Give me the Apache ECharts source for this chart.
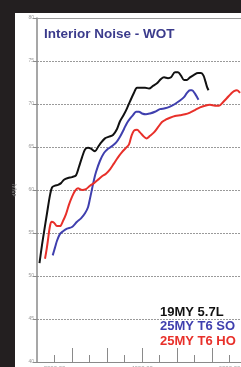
<!DOCTYPE html>
<html>
<head>
<meta charset="utf-8">
<script src="https://cdn.jsdelivr.net/npm/echarts@6/dist/echarts.min.js"></script>
<style>
  html, body { margin: 0; padding: 0; background: #231f20; }
  #chart { width: 241px; height: 367px; }
</style>
</head>
<body>
<div id="chart"></div>
<script>
// engine speed (rpm) / interior noise dB(A)
const rpm19 = [1657, 1714, 1760, 1829, 1897, 1943, 2011, 2080, 2149, 2217, 2309, 2400, 2491, 2560, 2629, 2697, 2766, 2834, 2926, 2994, 3063, 3154, 3246, 3337, 3429, 3497, 3589, 3657, 3726, 3817, 3886, 3977, 4069, 4160, 4251, 4343, 4434, 4503, 4594, 4663, 4754, 4823, 4891, 4960, 5029, 5097, 5189, 5280, 5349, 5406, 5451, 5486, 5520];
const db19 = [51.5, 53.6, 55.1, 57.3, 59.4, 60.3, 60.5, 60.6, 60.8, 61.2, 61.4, 61.5, 61.7, 62.7, 63.8, 64.7, 64.9, 64.8, 64.5, 65.0, 65.5, 66.0, 66.2, 66.4, 67.1, 68.0, 68.8, 69.5, 70.3, 71.3, 71.9, 71.9, 71.9, 71.8, 72.1, 72.4, 72.9, 73.1, 73.0, 73.1, 73.7, 73.7, 73.3, 72.8, 72.8, 73.1, 73.4, 73.6, 73.6, 73.3, 72.6, 72.0, 71.6];

const rpmSO = [1959, 2011, 2057, 2126, 2194, 2286, 2400, 2514, 2606, 2697, 2766, 2811, 2857, 2903, 2949, 3040, 3131, 3223, 3314, 3406, 3497, 3589, 3657, 3726, 3794, 3863, 3931, 4000, 4091, 4183, 4297, 4411, 4526, 4640, 4754, 4869, 4960, 5029, 5097, 5143, 5211, 5257, 5291];
const dbSO = [52.4, 53.3, 54.1, 54.9, 55.2, 55.5, 55.7, 56.3, 56.7, 57.3, 58.0, 59.0, 60.1, 61.2, 62.1, 63.4, 64.3, 64.8, 65.1, 65.5, 66.2, 67.1, 67.8, 68.3, 68.7, 69.1, 69.1, 68.9, 68.8, 68.9, 69.1, 69.4, 69.5, 69.7, 70.0, 70.4, 70.8, 71.3, 71.6, 71.6, 71.2, 70.8, 70.5];

const rpmHO = [1783, 1817, 1851, 1886, 1931, 1989, 2057, 2126, 2194, 2263, 2331, 2400, 2469, 2537, 2629, 2720, 2811, 2903, 2994, 3086, 3177, 3269, 3360, 3451, 3543, 3634, 3703, 3760, 3817, 3886, 3954, 4023, 4103, 4183, 4274, 4366, 4457, 4549, 4640, 4754, 4869, 4983, 5097, 5211, 5326, 5440, 5554, 5669, 5760, 5851, 5943, 6034, 6103, 6171, 6240];
const dbHO = [52.0, 53.0, 54.2, 55.5, 56.3, 56.2, 55.8, 55.8, 56.4, 57.2, 58.3, 59.2, 59.9, 60.2, 60.0, 60.1, 60.5, 60.8, 61.2, 61.6, 61.9, 62.4, 63.1, 63.8, 64.4, 64.9, 65.3, 66.3, 66.9, 67.0, 66.7, 66.3, 66.0, 66.3, 66.7, 67.3, 67.9, 68.2, 68.4, 68.6, 68.7, 68.8, 69.0, 69.3, 69.6, 69.8, 69.9, 69.8, 69.8, 70.2, 70.7, 71.2, 71.5, 71.6, 71.3];

const seriesNames = ['19MY 5.7L', '25MY T6 SO', '25MY T6 HO'];
const seriesColors = ['#111111', '#3f3fae', '#e8302a'];
const xLabelValues = [2000, 4000, 6000];
const xMajorTicks = [2400, 3200, 4000, 4800, 5600];

const zip = (xs, ys) => xs.map((x, i) => [x, ys[i]]);

const chart = echarts.init(document.getElementById('chart'));

const option = {
  backgroundColor: '#231f20',
  animation: false,
  graphic: [{
    type: 'rect',
    z: -10,
    shape: { x: 15, y: 13, width: 240, height: 360 },
    style: { fill: '#ffffff' }
  }],
  title: {
    text: 'Interior Noise - WOT',
    left: 44,
    top: 27,
    padding: 0,
    textStyle: {
      fontFamily: 'Liberation Sans',
      fontSize: 13.5,
      fontWeight: 'bold',
      color: '#3b3b8c'
    }
  },
  legend: {
    orient: 'vertical',
    left: 150,
    top: 300,
    icon: 'none',
    itemWidth: 0,
    itemHeight: 14,
    itemGap: 1.2,
    selectedMode: false,
    textStyle: { fontFamily: 'Liberation Sans', fontSize: 13, fontWeight: 'bold' },
    data: seriesNames.map((n, i) => ({ name: n, textStyle: { color: seriesColors[i] } }))
  },
  grid: {
    left: 37,
    top: 18,
    right: -6,
    bottom: 5,
    outerBoundsMode: 'none',
    containLabel: false
  },
  xAxis: [{
    type: 'value',
    min: 1600,
    max: 6400,
    interval: 800,
    axisLine: { lineStyle: { color: '#8a8a8a', width: 1 } },
    axisTick: {
      inside: true,
      length: 14,
      lineStyle: { color: '#8a8a8a' },
      customValues: xMajorTicks
    },
    minorTick: { show: true, splitNumber: 2, length: 7, lineStyle: { color: '#8a8a8a' } },
    axisLabel: {
      customValues: xLabelValues,
      formatter: v => v.toFixed(2),
      fontSize: 6,
      color: '#999',
      margin: 3
    },
    splitLine: { show: false }
  }, {
    type: 'value',
    position: 'top',
    min: 1600,
    max: 6400,
    axisLine: { show: true, lineStyle: { color: '#9a9a9a', width: 1 } },
    axisTick: { show: false },
    axisLabel: { show: false },
    splitLine: { show: false }
  }],
  yAxis: {
    type: 'value',
    min: 40,
    max: 80,
    interval: 5,
    name: 'dB(A)',
    nameLocation: 'middle',
    nameGap: 14,
    nameRotate: 90,
    nameTextStyle: { fontSize: 5, color: '#888' },
    axisLine: { show: true, lineStyle: { color: '#8a8a8a', width: 1.5 } },
    axisTick: { show: true, length: 4, lineStyle: { color: '#8a8a8a' } },
    axisLabel: { fontSize: 5, color: '#999', margin: 3 },
    splitLine: { lineStyle: { color: '#9a9a9a', type: [2, 1], width: 1 } }
  },
  series: [
    { name: seriesNames[0], data: zip(rpm19, db19) },
    { name: seriesNames[1], data: zip(rpmSO, dbSO) },
    { name: seriesNames[2], data: zip(rpmHO, dbHO) }
  ].map((s, i) => Object.assign(s, {
    type: 'line',
    showSymbol: false,
    smooth: 0.3,
    color: seriesColors[i],
    lineStyle: { width: 2, color: seriesColors[i] }
  }))
};

chart.setOption(option);
</script>
</body>
</html>
